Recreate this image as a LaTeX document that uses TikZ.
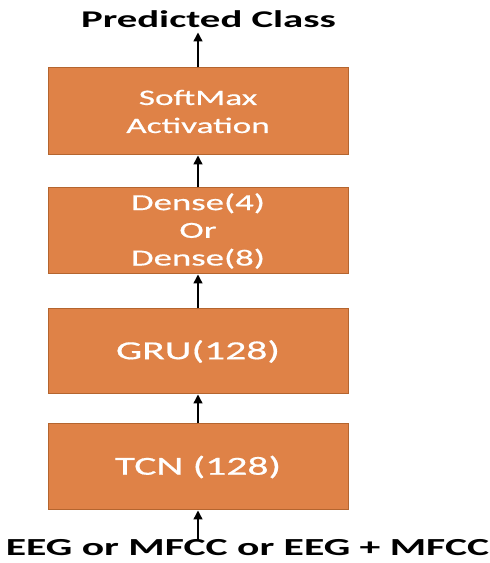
\documentclass[tikz,border=0pt]{standalone}
\usepackage{fontspec}
\setmainfont{Carlito}[FakeStretch=1.6,FakeBold=0.6]
\newfontfamily\iofont{Carlito}[FakeStretch=1.7]
\usetikzlibrary{arrows.meta}
\definecolor{boxfill}{HTML}{DF8247}
\definecolor{boxline}{HTML}{B4652F}
\begin{document}
\begin{tikzpicture}[x=1pt,y=1pt,
  layer/.style={draw=boxline,line width=1pt,fill=boxfill,minimum width=300pt,text=white,align=center,inner sep=0pt,font=\fontsize{22}{28}\selectfont},
  flow/.style={-{Triangle[length=9pt,width=9pt]},line width=1.4pt,black},
  io/.style={inner sep=0pt,font=\iofont\bfseries\fontsize{24}{28}\selectfont}]
\useasboundingbox (0,0) rectangle (490,563);
\node[layer,minimum height=87pt] (soft) at (198,451.5) {SoftMax\\Activation};
\node[layer,minimum height=86pt,font=\fontsize{23}{27.7}\selectfont] (dense) at (198,332) {Dense(4)\\Or\\Dense(8)};
\node[layer,minimum height=85pt,font=\fontsize{26}{28}\selectfont] (gru) at (198,211.5) {GRU(128)};
\node[layer,minimum height=86pt,font=\fontsize{26}{28}\selectfont] (tcn) at (198,96) {TCN (128)};
\node[io] (out) at (208.5,544) {Predicted Class};
\node[io,font=\iofont\bfseries\fontsize{24.5}{28}\selectfont] (in) at (247.5,15) {EEG or MFCC or EEG + MFCC};
\draw[flow] (in.north -| tcn.south) -- (tcn.south);
\draw[flow] (tcn.north) -- (gru.south);
\draw[flow] (gru.north) -- (dense.south);
\draw[flow] (dense.north) -- (soft.south);
\draw[flow] (soft.north) -- ++(0,35);
\end{tikzpicture}
\end{document}
